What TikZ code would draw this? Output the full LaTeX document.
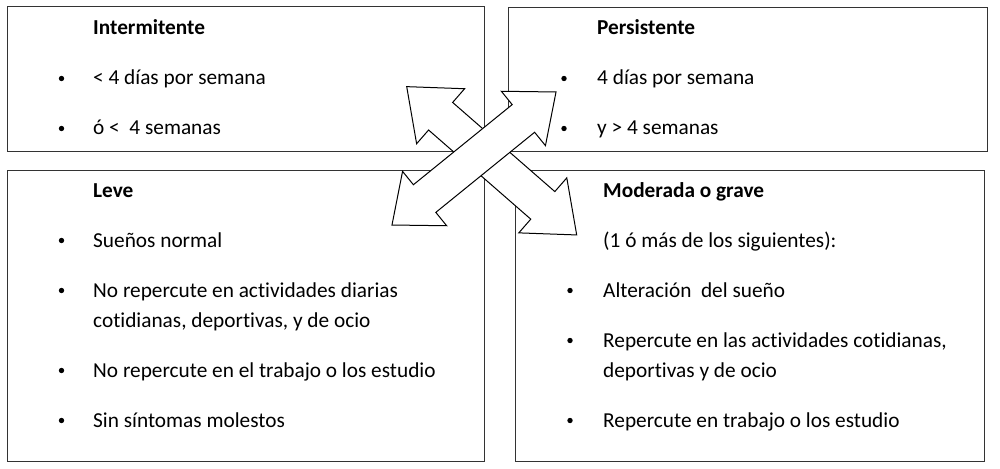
\documentclass[tikz,border=0pt]{standalone}
\usepackage{fontspec}
\setmainfont{Carlito}[Ligatures={NoCommon}]
\begin{document}
\begin{tikzpicture}[x=1pt,y=-1pt,
  box/.style={draw=black!80, line width=1pt, anchor=north west, inner sep=0pt, outer sep=0pt},
  txt/.style={anchor=base west, inner sep=0pt, font=\fontsize{21.3}{25}\selectfont},
  ttl/.style={anchor=base west, inner sep=0pt, font=\fontsize{21.3}{25}\selectfont\bfseries},
  bul/.style={circle, fill=black, draw=none, inner sep=0pt, minimum size=5.4pt},
  blockarrow/.style={draw=black, line width=1pt, fill=white, line join=miter}]
\useasboundingbox (0,0) rectangle (1000,468);
% boxes
\node[box, minimum width=477pt, minimum height=144pt] (tl) at (7,7) {};
\node[box, minimum width=479pt, minimum height=143pt] (tr) at (508,8) {};
\node[box, minimum width=477pt, minimum height=291pt] (bl) at (7,170) {};
\node[box, minimum width=469pt, minimum height=291pt] (br) at (515,170) {};
% top-left
\node[ttl] (tlt) at (93,35) {Intermitente};
\node[bul] (tlb1) at (61.5,78.5) {};
\node[txt] (tl1) at (93,85) {< 4 días por semana};
\node[bul] (tlb2) at (61.5,128.5) {};
\node[txt] (tl2) at (93,135) {ó <\ \ 4 semanas};
% top-right
\node[ttl] (trt) at (597,35) {Persistente};
\node[bul] (trb1) at (564,78.5) {};
\node[txt] (tr1) at (597,85) {4 días por semana};
\node[bul] (trb2) at (564,128.5) {};
\node[txt] (tr2) at (597,135) {y > 4 semanas};
% bottom-left
\node[ttl] (blt) at (93,197) {Leve};
\node[bul] (blb1) at (61.5,240.5) {};
\node[txt] (bl1) at (93,247) {Sueños normal};
\node[bul] (blb2) at (61.5,290.5) {};
\node[txt] (bl2) at (93,297) {No repercute en actividades diarias};
\node[txt] (bl2b) at (93,327) {cotidianas, deportivas, y de ocio};
\node[bul] (blb3) at (61.5,370.5) {};
\node[txt] (bl3) at (93,377) {No repercute en el trabajo o los estudio};
\node[bul] (blb4) at (61.5,420.5) {};
\node[txt] (bl4) at (93,427) {Sin síntomas molestos};
% bottom-right
\node[ttl] (brt) at (603,197) {Moderada o grave};
\node[txt] (br0) at (603,247) {(1 ó más de los siguientes):};
\node[bul] (brb1) at (570,290.5) {};
\node[txt] (br1) at (603,297) {Alteración\ \ del sueño};
\node[bul] (brb2) at (570,340.5) {};
\node[txt] (br2) at (603,347) {Repercute en las actividades cotidianas,};
\node[txt] (br2b) at (603,377) {deportivas y de ocio};
\node[bul] (brb3) at (570,420.5) {};
\node[txt] (br3) at (603,427) {Repercute en trabajo o los estudio};
% arrow NW-SE (beneath)
\draw[blockarrow, shift={(491.7,160.8)}, rotate=-41.1]
  (112.8,0) -- (67.8,36.5) -- (67.8,18.3) -- (-67.8,18.3) -- (-67.8,36.5)
  -- (-112.8,0) -- (-67.8,-36.5) -- (-67.8,-18.3) -- (67.8,-18.3) -- (67.8,-36.5) -- cycle;
% arrow SW-NE (on top)
\draw[blockarrow, shift={(474,158.5)}, rotate=39.04]
  (105.6,0) -- (63.6,35) -- (63.6,17.8) -- (-63.6,17.8) -- (-63.6,35)
  -- (-105.6,0) -- (-63.6,-35) -- (-63.6,-17.8) -- (63.6,-17.8) -- (63.6,-35) -- cycle;
\end{tikzpicture}
\end{document}
